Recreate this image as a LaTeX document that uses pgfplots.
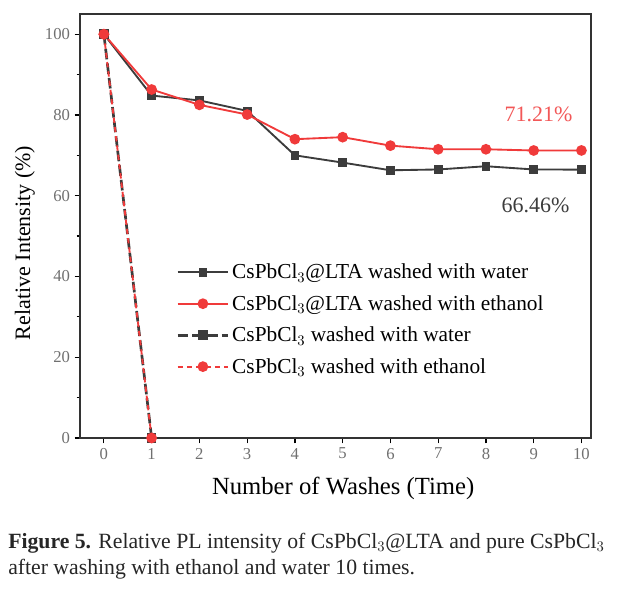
\documentclass[border=0pt]{standalone}
\usepackage{pgfplots}
\pgfplotsset{compat=1.18}
\usepackage{fontspec}
\setmainfont{Liberation Serif}
\definecolor{cred}{HTML}{F03A3A}
\definecolor{cgray}{HTML}{3C3C3C}
\definecolor{ctick}{HTML}{707070}
\begin{document}
\begin{tikzpicture}
\useasboundingbox (-60pt,-114pt) rectangle (405.75pt,328.5pt);
\begin{axis}[
  at={(0,0)}, anchor=south west,
  scale only axis, width=383.25pt, height=318pt,
  xmin=-0.5, xmax=10.2, ymin=0, ymax=105,
  xtick={0,...,10}, ytick={0,20,...,100},
  minor ytick={10,30,50,70,90},
  tick align=outside, tick pos=left,
  major tick length=4pt, minor tick length=2.5pt,
  axis line style={line width=1.1pt, black!80},
  every tick/.style={line width=0.9pt, black},
  tick label style={font=\fontsize{12.5}{14}\selectfont, text=ctick},
  /pgf/number format/assume math mode=true,
  xlabel={Number of Washes (Time)},
  ylabel={Relative Intensity (\%)},
  xlabel style={font=\fontsize{18.5}{20}\selectfont, at={(axis description cs:0.515,-0.12)}, anchor=center},
  ylabel style={font=\fontsize{16.5}{18}\selectfont, at={(axis description cs:-0.108,0.46)}, anchor=center},
  legend style={draw=none, fill=none, at={(0.18,0.424)}, anchor=north west,
    font=\fontsize{16}{18}\selectfont, row sep=7pt, legend cell align=left},
  /pgfplots/legend image code/.code={
    \draw[#1] (0pt,0pt) -- (38pt,0pt);
    \draw[#1, solid] plot coordinates {(19pt,0pt)};
  },
]
\addplot[cgray, line width=1.4pt, mark=square*, mark size=2.6pt, mark options={solid}]
 coordinates {(0,100) (1,84.8) (2,83.6) (3,81.0) (4,70.0) (5,68.2) (6,66.3) (7,66.5) (8,67.3) (9,66.5) (10,66.46)};
\addlegendentry{CsPbCl$_3$@LTA washed with water}
\addplot[cred, line width=1.4pt, mark=*, mark size=3.3pt, mark options={solid}]
 coordinates {(0,100) (1,86.3) (2,82.5) (3,80.1) (4,74.0) (5,74.5) (6,72.4) (7,71.5) (8,71.5) (9,71.2) (10,71.21)};
\addlegendentry{CsPbCl$_3$@LTA washed with ethanol}
\addplot[cgray, line width=2pt, dash pattern=on 8pt off 3pt, mark=square*, mark size=2.6pt, mark options={solid}]
 coordinates {(0,100) (1,0)};
\addlegendentry{CsPbCl$_3$ washed with water}
\addplot[cred, line width=1.4pt, dash pattern=on 4pt off 3pt, mark=*, mark size=3.3pt, mark options={solid}]
 coordinates {(0,100) (1,0)};
\addlegendentry{CsPbCl$_3$ washed with ethanol}
\node[text=cred!85, font=\fontsize{16.5}{18}\selectfont] at (axis cs:9.1,80.2) {71.21\%};
\node[text=cgray, font=\fontsize{16.5}{18}\selectfont] at (axis cs:9.04,57.7) {66.46\%};
\end{axis}
\node[anchor=base west, text=black!85, font=\fontsize{16.3}{19.5}\selectfont, align=left, inner sep=0pt] at (-54pt,-102pt)
 {\textbf{Figure 5.} Relative PL intensity of CsPbCl$_3$@LTA and pure CsPbCl$_3$\\after washing with ethanol and water 10 times.};
\end{tikzpicture}
\end{document}
